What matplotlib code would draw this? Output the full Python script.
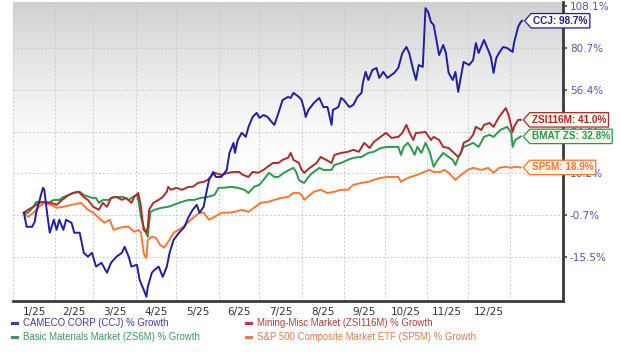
import numpy as np
import matplotlib
matplotlib.use("Agg")
import matplotlib.pyplot as plt
from matplotlib.path import Path
from matplotlib.lines import Line2D

# x = day of 2025 (0 = Jan 1), y = % growth
ccj_days = [8, 10, 14, 16, 17, 19, 22, 23, 25, 27, 30, 32, 34, 37, 39, 43, 45, 49, 52, 55,
            58, 61, 65, 69, 72, 76, 80, 82, 85, 87, 91, 93, 96, 98, 99, 102, 104, 107, 110, 113,
            115, 118, 122, 126, 129, 132, 135, 137, 140, 142, 144, 147, 149, 153, 157, 159, 162, 163, 165, 168,
            171, 173, 176, 179, 181, 184, 187, 190, 192, 195, 198, 202, 204, 206, 210, 212, 214, 215, 217, 221,
            225, 228, 231, 234, 235, 239, 241, 243, 247, 250, 253, 256, 257, 259, 261, 264, 267, 269, 272, 275,
            280, 283, 286, 289, 291, 294, 296, 298, 301, 303, 305, 307, 309, 311, 313, 316, 318, 320, 323, 325,
            327, 329, 331, 335, 338, 340, 342, 346, 349, 351, 353, 355, 357, 360, 363, 367, 368, 371, 373, 374]
ccj_pct = [0.3, -4.8, -4.8, -3.0, 0.3, 4.3, 10.4, 9.6, 0.3, -6.9, -2.3, -5.9, -2.3, -5.9, -2.3, -3.4, -6.9, -6.9, -14.0, -15.4,
           -14.0, -18.5, -17.3, -20.4, -17.3, -15.4, -14.0, -11.9, -15.4, -18.5, -17.9, -22.6, -25.7, -27.9, -24.8, -20.4, -19.5, -18.5, -21.7, -18.5,
           -14.0, -9.4, -6.9, -4.8, -1.3, 1.5, 3.5, 0.3, 2.7, 8.4, 13.6, 16.9, 14.8, 14.8, 17.8, 25.4, 29.9, 25.4, 31.0, 34.4,
           32.6, 37.4, 42.5, 44.6, 42.0, 43.5, 42.5, 39.9, 38.4, 44.6, 51.2, 52.8, 52.3, 54.9, 52.8, 51.2, 46.1, 42.5, 46.1, 49.7,
           52.3, 47.6, 47.6, 38.4, 46.1, 47.6, 52.3, 51.2, 47.6, 48.7, 52.8, 54.9, 60.5, 66.9, 62.2, 68.0, 69.2, 63.4, 66.9, 63.4,
           66.3, 69.2, 77.9, 81.5, 77.9, 68.0, 62.2, 70.9, 69.8, 107.0, 104.4, 97.9, 95.9, 86.1, 76.7, 82.8, 77.9, 66.3, 62.2, 66.9,
           55.4, 64.0, 72.7, 70.9, 73.8, 84.1, 77.9, 86.1, 79.7, 75.6, 66.3, 75.0, 77.9, 81.5, 80.8, 78.5, 84.1, 94.6, 97.9, 98.7]

zsi_days = [8, 11, 15, 19, 23, 28, 32, 36, 41, 44, 48, 52, 55, 59, 63, 66, 69, 72, 76, 80,
            83, 87, 89, 92, 94, 95, 96, 98, 99, 100, 103, 107, 110, 113, 114, 116, 120, 124, 129, 132,
            136, 140, 143, 148, 153, 158, 163, 166, 169, 173, 176, 180, 184, 187, 191, 195, 198, 202, 204, 206,
            210, 212, 214, 218, 223, 226, 230, 234, 236, 241, 246, 250, 254, 258, 262, 265, 270, 274, 278, 283,
            286, 289, 291, 294, 296, 298, 303, 307, 309, 313, 316, 320, 323, 327, 329, 331, 335, 338, 340, 344,
            346, 350, 353, 357, 362, 364, 367, 368, 371, 373]
zsi_pct = [0.3, 1.5, 2.7, 4.3, 4.7, 4.3, 3.5, 5.5, 7.5, 8.3, 8.8, 6.7, 5.5, 2.7, 1.5, 4.3, 2.7, 6.3, 6.7, 5.5,
           6.3, 4.3, 6.7, 8.3, 2.7, -2.3, -5.9, -6.9, -4.8, 1.5, 4.3, 5.5, 6.7, 8.8, 10.8, 9.6, 10.4, 9.6, 10.8, 10.8,
           12.4, 12.8, 13.6, 16.5, 15.6, 16.5, 16.9, 16.9, 15.6, 14.8, 16.9, 16.5, 17.8, 19.2, 20.9, 20.9, 22.3, 23.2, 25.4, 22.3,
           20.9, 17.8, 16.5, 18.7, 20.9, 23.6, 22.3, 20.9, 24.5, 25.4, 25.9, 26.8, 25.9, 29.9, 27.6, 30.3, 32.6, 34.4, 32.1, 32.6,
           34.4, 38.4, 34.8, 31.2, 34.4, 34.4, 34.8, 31.2, 32.6, 31.2, 28.1, 27.6, 25.9, 23.6, 25.4, 29.9, 31.2, 33.5, 37.4, 35.8,
           38.4, 39.4, 37.4, 42.5, 47.1, 43.5, 34.8, 37.4, 41.0, 41.0]

bmat_days = [8, 11, 15, 17, 21, 26, 30, 34, 37, 41, 44, 49, 52, 58, 61, 63, 66, 70, 74, 77,
             81, 85, 88, 91, 92, 94, 96, 99, 100, 101, 104, 109, 114, 118, 124, 129, 133, 138, 143, 148,
             151, 155, 160, 165, 170, 173, 177, 181, 184, 188, 192, 195, 199, 203, 206, 208, 210, 212, 214, 217,
             220, 225, 228, 234, 236, 241, 246, 250, 256, 261, 265, 270, 275, 280, 283, 285, 287, 290, 292, 295,
             297, 300, 303, 306, 309, 312, 316, 320, 323, 325, 327, 331, 335, 338, 342, 346, 350, 353, 358, 363,
             366, 367, 369, 373]
bmat_pct = [0.3, 0.3, 2.7, 4.7, 4.7, 4.3, 5.5, 5.5, 6.7, 7.5, 8.3, 8.8, 7.5, 6.3, 6.3, 4.3, 5.5, 5.5, 6.7, 6.7,
            6.7, 5.5, 6.7, 7.5, 5.5, -1.3, -4.8, -8.3, -3.4, 0.7, 1.5, 2.3, 2.7, 3.5, 4.7, 5.5, 5.5, 6.3, 6.7, 7.5,
            10.4, 10.4, 10.8, 10.4, 9.6, 8.3, 10.8, 11.6, 13.6, 16.5, 14.8, 14.8, 16.5, 17.8, 18.7, 16.9, 13.6, 12.8, 12.4, 14.8,
            16.5, 18.7, 17.8, 17.8, 20.0, 20.9, 22.3, 23.2, 23.6, 25.4, 25.9, 27.6, 28.1, 28.1, 28.1, 24.5, 28.1, 29.9, 28.1, 24.5,
            28.1, 25.4, 29.9, 25.9, 19.2, 22.3, 25.4, 23.6, 22.3, 20.0, 23.2, 28.1, 29.0, 29.9, 28.1, 32.6, 33.5, 32.6, 35.8, 37.4,
            34.4, 28.1, 31.2, 32.8]

sp_days = [8, 11, 15, 19, 23, 28, 32, 37, 43, 50, 55, 59, 63, 67, 71, 74, 78, 82, 85, 89,
           92, 94, 96, 97, 98, 99, 102, 105, 108, 111, 115, 118, 124, 129, 133, 137, 140, 144, 148, 153,
           158, 163, 168, 173, 177, 182, 187, 192, 197, 202, 206, 210, 212, 214, 218, 221, 226, 231, 236, 241,
           246, 250, 256, 261, 265, 270, 275, 280, 283, 285, 287, 292, 297, 302, 306, 309, 314, 317, 320, 325,
           329, 334, 338, 344, 349, 353, 357, 362, 366, 369, 373]
sp_pct = [0.3, -1.3, 0.3, 2.7, 4.3, 3.5, 2.3, 2.7, 3.5, 4.3, 1.5, 0.3, -1.6, -3.4, -2.3, -5.9, -5.2, -4.8, -4.8, -6.6,
          -5.9, -6.9, -14.0, -15.4, -15.8, -9.4, -8.3, -8.7, -11.2, -12.2, -9.4, -6.9, -5.2, -3.0, -1.3, 0.3, 0.3, -2.3, -1.3, 0.3,
          0.3, 0.7, 1.5, 0.7, 2.3, 4.3, 4.7, 5.5, 6.3, 6.7, 8.3, 8.3, 7.5, 5.5, 7.5, 8.8, 9.6, 8.3, 8.8, 9.6,
          9.6, 11.6, 12.4, 12.8, 13.6, 14.4, 14.8, 14.8, 14.8, 12.8, 13.6, 14.8, 15.6, 16.9, 17.8, 16.9, 16.9, 17.8, 16.5, 13.6,
          15.6, 17.8, 18.7, 17.8, 18.7, 16.5, 18.7, 19.2, 18.7, 19.2, 18.9]

series_names = ["CAMECO CORP (CCJ) % Growth", "Mining-Misc Market (ZSI116M) % Growth",
                "Basic Materials Market (ZS6M) % Growth", "S&P 500 Composite Market ETF (SP5M) % Growth"]
tag_names = ["CCJ", "ZSI116M", "BMAT ZS", "SP5M"]
line_colors = ["#1e1ea6", "#b02a2a", "#2a9a4a", "#ff7633"]
legend_colors = ["#3a3ab4", "#b83a3a", "#3a9a5c", "#f07a48"]

# right axis grid values (scale is not linear, grid rows are evenly spaced)
scale_vals = [-28.5, -15.5, -0.7, 16.2, 34.9, 56.4, 80.7, 108.1]
ytick_vals = [-15.5, -0.7, 16.2, 34.9, 56.4, 80.7, 108.1]
ytick_labels = ["-15.5%", "-0.7%", "16.2%", "34.9%", "56.4%", "80.7%", "108.1%"]

month_starts = [0, 31, 59, 90, 120, 151, 181, 212, 243, 273, 304, 334, 365]
month_labels = ["1/25", "2/25", "3/25", "4/25", "5/25", "6/25", "7/25", "8/25",
                "9/25", "10/25", "11/25", "12/25"]

sv = np.array(scale_vals)
idx = np.arange(len(sv), dtype=float)


def forward(v):
    v = np.asarray(v, dtype=float)
    out = np.interp(v, sv, idx)
    lo = v < sv[0]
    hi = v > sv[-1]
    out = np.where(lo, (v - sv[0]) / (sv[1] - sv[0]), out)
    out = np.where(hi, idx[-1] + (v - sv[-1]) / (sv[-1] - sv[-2]), out)
    return out


def inverse(p):
    p = np.asarray(p, dtype=float)
    out = np.interp(p, idx, sv)
    out = np.where(p < 0, sv[0] + p * (sv[1] - sv[0]), out)
    out = np.where(p > idx[-1], sv[-1] + (p - idx[-1]) * (sv[-1] - sv[-2]), out)
    return out


def tag_box(x0, y0, width, height, mutation_size):
    # price-tag shaped box pointing left
    pad = 0.22 * mutation_size
    x0, y0 = x0 - pad, y0 - pad
    width, height = width + 2 * pad, height + 2 * pad
    tip = height * 0.45
    verts = [(x0 - tip, y0 + height / 2), (x0, y0), (x0 + width, y0),
             (x0 + width, y0 + height), (x0, y0 + height),
             (x0 - tip, y0 + height / 2)]
    return Path(verts, closed=True)


fig = plt.figure(figsize=(6.2, 3.52), dpi=100)
ax = fig.add_axes([13 / 620, 51 / 352, 550 / 620, 299 / 352])
ax.set_yscale("function", functions=(forward, inverse))

# grey to white background gradient
t = np.linspace(0, 1, 256)
shade = 1 - 0.18 * np.clip(1 - t / 0.55, 0, 1) ** 1.3
grad = np.dstack([shade, shade, shade])[0][:, None, :].repeat(2, axis=1)
ax.imshow(grad, extent=[0, 1, 0, 1], transform=ax.transAxes, aspect="auto",
          origin="upper", zorder=0, interpolation="bilinear")

data = [(ccj_days, ccj_pct), (zsi_days, zsi_pct), (bmat_days, bmat_pct), (sp_days, sp_pct)]
zorders = [6, 5, 4, 3]
for (d, v), c, z in zip(data, line_colors, zorders):
    ax.plot(d, v, color=c, lw=1.4, zorder=z, solid_joinstyle="round")

ax.set_xlim(0, 404)
ax.set_ylim(-29.2, 111.0)

# tags at the line ends
tag_fills = ["#fdfbe9", "#fdf6ea", "#f4fbec", "#fff5e4"]
for (d, v), name, c, f in zip(data, tag_names, line_colors, tag_fills):
    ax.annotate(f"{name}: {v[-1]:.1f}%", xy=(d[-1], v[-1]), xytext=(8, 0),
                textcoords="offset points", ha="left", va="center",
                fontsize=7.2, fontweight="bold", color=c, annotation_clip=False,
                family="Liberation Sans", zorder=10,
                bbox=dict(boxstyle=tag_box, fc=f, ec=c, lw=0.9))

# axes styling
ax.set_xticks(month_starts)
ax.set_xticklabels([])
ax.set_xticks([(a + b) / 2 for a, b in zip(month_starts[:-1], month_starts[1:])], minor=True)
ax.set_xticklabels(month_labels, minor=True, fontsize=7.5, color="#333333")
ax.tick_params(axis="x", which="both", length=0, pad=4)

ax.yaxis.tick_right()
ax.set_yticks(ytick_vals)
ax.set_yticklabels(ytick_labels, fontsize=7.5, color="#5252b8")
ax.yaxis.set_minor_locator(matplotlib.ticker.NullLocator())
ax.tick_params(axis="y", which="major", length=3, width=1.2, color="#444444", pad=2)

ax.grid(True, which="major", ls=(0, (2, 2)), color="#c9c9c9", lw=0.7)
ax.set_axisbelow(True)
for s in ["left", "top"]:
    ax.spines[s].set_visible(False)
for s in ["right", "bottom"]:
    ax.spines[s].set_color("#3a3a3a")
    ax.spines[s].set_linewidth(2)

# legend, two columns
legend_pos = [(12, 323), (246, 323), (12, 337), (246, 337)]
for (px, py), name, c in zip(legend_pos, series_names, legend_colors):
    yy = 1 - py / 352
    fig.add_artist(Line2D([px / 620, (px + 5) / 620], [yy, yy], color=c, lw=2.2,
                          transform=fig.transFigure))
    fig.text((px + 11) / 620, yy, name, color=c, fontsize=6.9, va="center", ha="left",
             family="Liberation Sans")

fig.savefig("out.png", dpi=100, facecolor="white")
